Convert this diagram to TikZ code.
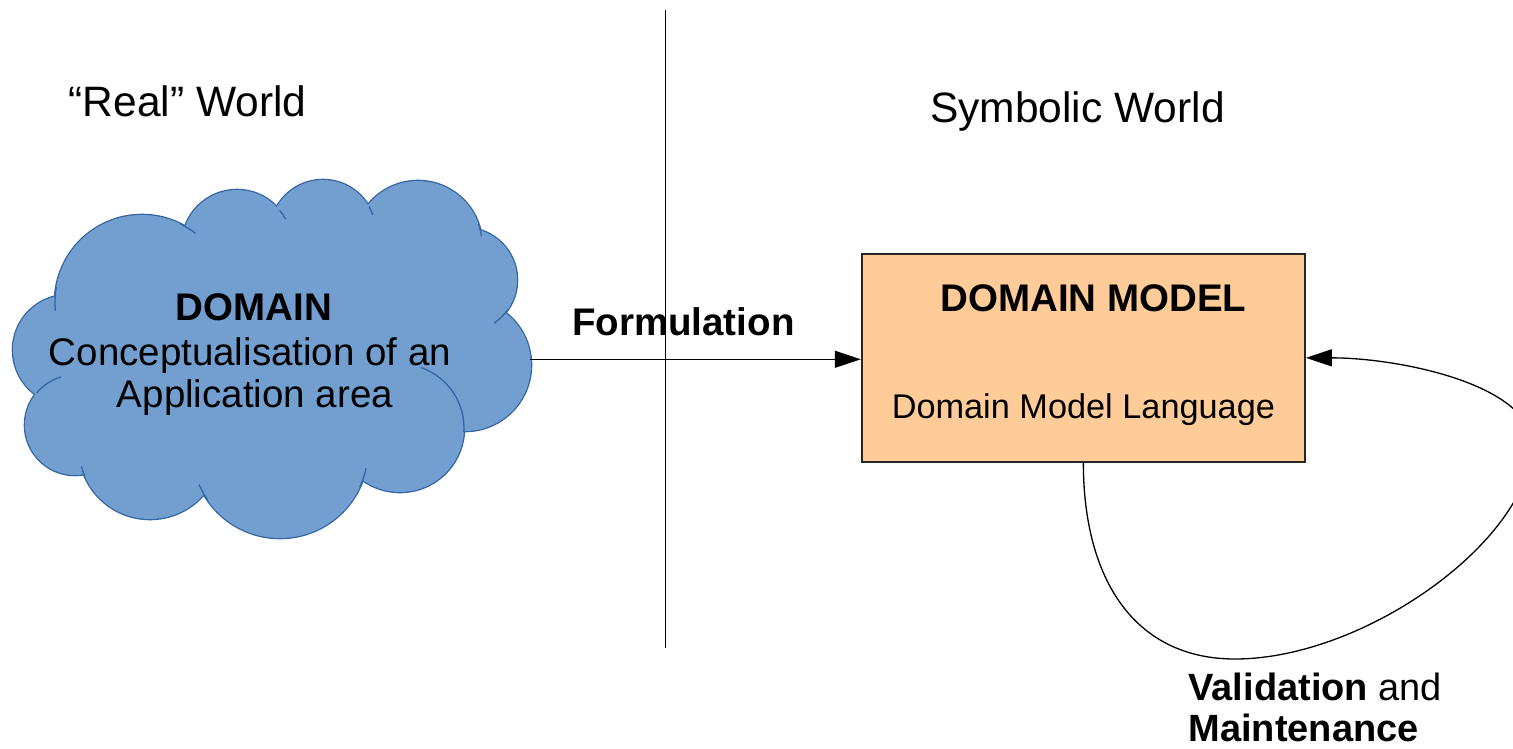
\documentclass[tikz,border=0pt]{standalone}
\usepackage{fontspec}
\setmainfont{Liberation Sans}
\usetikzlibrary{arrows.meta}
\definecolor{cloudfill}{HTML}{729FCF}
\definecolor{cloudline}{HTML}{3465A4}
\definecolor{boxfill}{HTML}{FFCC99}
\tikzset{
  lbl/.style={inner sep=0pt, anchor=base},
  bigfont/.style={font=\fontsize{42.5}{50}\selectfont},
  midfont/.style={font=\fontsize{38.5}{44}\selectfont},
  smallfont/.style={font=\fontsize{34.3}{40}\selectfont},
  conn/.style={draw=black, line width=1.3pt, -{Triangle[length=26pt,width=17pt]}},
  divider/.style={draw=black, line width=1.4pt},
  tail/.style={draw=cloudline, line width=1.3pt},
  modelbox/.style={draw=black!85, line width=1.8pt, fill=boxfill, inner sep=0pt,
                   minimum width=443.3pt, minimum height=207.7pt}
}
\begin{document}
\begin{tikzpicture}[x=1pt,y=1pt,yscale=-1]
\useasboundingbox (0,0) rectangle (1513,749);
\clip (0,0) rectangle (1513,749);

% ---- cloud (union of puffs) ----
\foreach \cx/\cy/\r in {142/302/87, 237/245/55, 323/233/53, 418/245/64, 465/280/52,
                         465/365/66, 400/428/64, 280/450/88, 150/448/71, 75/425/50, 68/350/55}
  \draw[draw=cloudline, line width=2.6pt, fill=cloudfill] (\cx,\cy) circle[radius=\r];
\foreach \cx/\cy/\r in {142/302/87, 237/245/55, 323/233/53, 418/245/64, 465/280/52,
                         465/365/66, 400/428/64, 280/450/88, 150/448/71, 75/425/50, 68/350/55}
  \fill[cloudfill] (\cx,\cy) circle[radius=\r];
\fill[cloudfill] (280,370) ellipse[x radius=200, y radius=110];
% inner tails of the puffs
\draw[tail] ([shift={(142,302)}]-64:87) arc[start angle=-64, end angle=-52, radius=87];
\draw[tail] ([shift={(142,302)}]190:87) arc[start angle=190, end angle=174, radius=87];
\draw[tail] ([shift={(237,245)}]-39:55) arc[start angle=-39, end angle=-28, radius=55];
\draw[tail] ([shift={(323,233)}]-30:53) arc[start angle=-30, end angle=-20, radius=53];
\draw[tail] ([shift={(418,245)}]-19:64) arc[start angle=-19, end angle=-8, radius=64];
\draw[tail] ([shift={(465,280)}]35:52) arc[start angle=35, end angle=56, radius=52];
\draw[tail] ([shift={(400,428)}]-71:64) arc[start angle=-71, end angle=4, radius=64];
\draw[tail] ([shift={(280,450)}]25:88) arc[start angle=25, end angle=12, radius=88];
\draw[tail] ([shift={(280,450)}]145:88) arc[start angle=145, end angle=157, radius=88];
\draw[tail] ([shift={(150,448)}]157:71) arc[start angle=157, end angle=165, radius=71];
\draw[tail] ([shift={(75,425)}]220:50) arc[start angle=220, end angle=254, radius=50];

% cloud text
\node[lbl, midfont] (dtitle) at (254,320.7) {\textbf{DOMAIN}};
\node[lbl, midfont] (dline1) at (250,365) {Conceptualisation of an};
\node[lbl, midfont] (dline2) at (255,407.5) {Application area};

% ---- titles ----
\node[lbl, bigfont] (realw) at (187.5,116.5) {“Real” World};
\node[lbl, bigfont] (symw) at (1077.5,122.7) {Symbolic World};

% ---- divider ----
\coordinate (divtop) at (665.7,10);
\coordinate (divbot) at (665.7,648);
\draw[divider] (divtop) -- (divbot);

% ---- domain model box ----
\node[modelbox] (dm) at (1083.35,357.85) {};
\node[lbl, midfont] (dmtitle) at (1093.5,311.7) {\textbf{DOMAIN MODEL}};
\node[lbl, smallfont] (dmlang) at (1083.4,418.3) {Domain Model Language};

% ---- formulation arrow ----
\coordinate (cloudR) at (530,359.3);
\draw[conn] (cloudR) -- (cloudR -| dm.west);
\node[lbl, midfont] (form) at (683.3,335) {\textbf{Formulation}};

% ---- validation loop ----
\draw[conn] (dm.south) .. controls (1083.35,580) and (1135,659) .. (1235,659)
            .. controls (1365,659) and (1530,540) .. (1532,445)
            .. controls (1532,385) and (1400,357.85) .. (dm.east);
\node[lbl, anchor=base west, font=\fontsize{38}{44}\selectfont] (vm1) at (1188.3,700.5) {\textbf{Validation} and};
\node[lbl, anchor=base west, font=\fontsize{38}{44}\selectfont] (vm2) at (1188.3,741.5) {\textbf{Maintenance}};
\end{tikzpicture}
\end{document}
